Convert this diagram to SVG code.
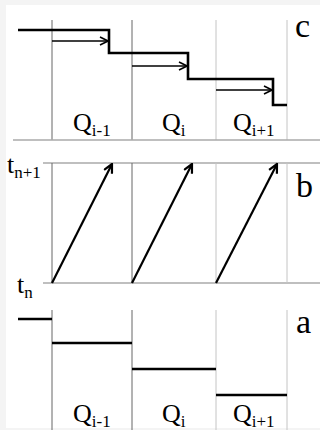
<svg xmlns="http://www.w3.org/2000/svg" width="320" height="430" viewBox="0 0 320 430">
<style>
.vd{stroke:#666;stroke-width:1;fill:none}
.vl{stroke:#c4c4c4;stroke-width:1;fill:none}
.hl{stroke:#aaa;stroke-width:1.3;fill:none}
.step{stroke:#000;stroke-width:2.6;fill:none}
.thin{stroke:#000;stroke-width:1.3;fill:none}
.thick{stroke:#000;stroke-width:2.2;fill:none}
.q{font-family:"Liberation Serif","Times New Roman",serif;font-size:26px;fill:#000}
.s{font-size:17px}
.big{font-family:"Liberation Serif","Times New Roman",serif;font-size:34px;fill:#000}
</style>
<defs>
<marker id="ah" viewBox="0 0 10 10" refX="9" refY="5" markerWidth="10" markerHeight="10" markerUnits="userSpaceOnUse" orient="auto">
<path d="M1,1 L9,5 L1,9" fill="none" stroke="#000" stroke-width="1.6"/>
</marker>
<marker id="ah2" viewBox="0 0 10 10" refX="9" refY="5" markerWidth="11" markerHeight="11" markerUnits="userSpaceOnUse" orient="auto">
<path d="M1,1 L9,5 L1,9" fill="none" stroke="#000" stroke-width="2"/>
</marker>
</defs>
<rect x="0" y="0" width="320" height="430" fill="#f4f4f4"/>
<rect x="6" y="5" width="314" height="423" fill="#fff"/>

<g id="panel-c">
<line class="vd" x1="52" y1="20" x2="52" y2="140"/>
<line class="vd" x1="132" y1="20" x2="132" y2="140"/>
<line class="vl" x1="216" y1="20" x2="216" y2="140"/>
<line class="vl" x1="287" y1="20" x2="287" y2="140"/>
<line class="hl" x1="13" y1="140" x2="320" y2="140"/>
<text class="big" x="295" y="37">c</text>
<text class="q" x="73" y="131">Q<tspan class="s" dy="5">i-1</tspan></text>
<text class="q" x="162" y="131">Q<tspan class="s" dy="5">i</tspan></text>
<text class="q" x="233" y="131">Q<tspan class="s" dy="5">i+1</tspan></text>
</g>

<g id="panel-b">
<line class="hl" x1="43" y1="163" x2="320" y2="163"/>
<line class="hl" x1="43" y1="283" x2="320" y2="283"/>
<line class="vd" x1="52" y1="163" x2="52" y2="283"/>
<line class="vd" x1="132" y1="163" x2="132" y2="283"/>
<line class="vl" x1="216" y1="163" x2="216" y2="283"/>
<line class="vl" x1="287" y1="163" x2="287" y2="283"/>
<text class="big" x="296" y="197">b</text>
<text class="q" x="7" y="173">t<tspan class="s" dy="5">n+1</tspan></text>
<text class="q" x="17" y="293">t<tspan class="s" dy="5">n</tspan></text>
</g>

<g id="panel-a">
<line class="vd" x1="52" y1="310" x2="52" y2="430"/>
<line class="vd" x1="132" y1="310" x2="132" y2="430"/>
<line class="vl" x1="216" y1="310" x2="216" y2="430"/>
<line class="vl" x1="287" y1="310" x2="287" y2="430"/>
<text class="big" x="296" y="333">a</text>
<text class="q" x="73" y="422">Q<tspan class="s" dy="5">i-1</tspan></text>
<text class="q" x="162" y="422">Q<tspan class="s" dy="5">i</tspan></text>
<text class="q" x="233" y="422">Q<tspan class="s" dy="5">i+1</tspan></text>
</g>

<g id="connectors">
<polyline class="step" points="18,30 109,30 109,53 188,53 188,79 273,79 273,105 287,105"/>
<line class="thin" x1="52" y1="41" x2="108" y2="41" marker-end="url(#ah)"/>
<line class="thin" x1="132" y1="66" x2="187" y2="66" marker-end="url(#ah)"/>
<line class="thin" x1="216" y1="90" x2="272" y2="90" marker-end="url(#ah)"/>
<line class="thick" x1="52" y1="283" x2="112" y2="164" marker-end="url(#ah2)"/>
<line class="thick" x1="132" y1="283" x2="192" y2="164" marker-end="url(#ah2)"/>
<line class="thick" x1="216" y1="283" x2="277" y2="164" marker-end="url(#ah2)"/>
<line class="step" x1="18" y1="319" x2="52" y2="319"/>
<line class="step" x1="52" y1="343" x2="132" y2="343"/>
<line class="step" x1="132" y1="369" x2="216" y2="369"/>
<line class="step" x1="216" y1="395" x2="287" y2="395"/>
</g>
</svg>
